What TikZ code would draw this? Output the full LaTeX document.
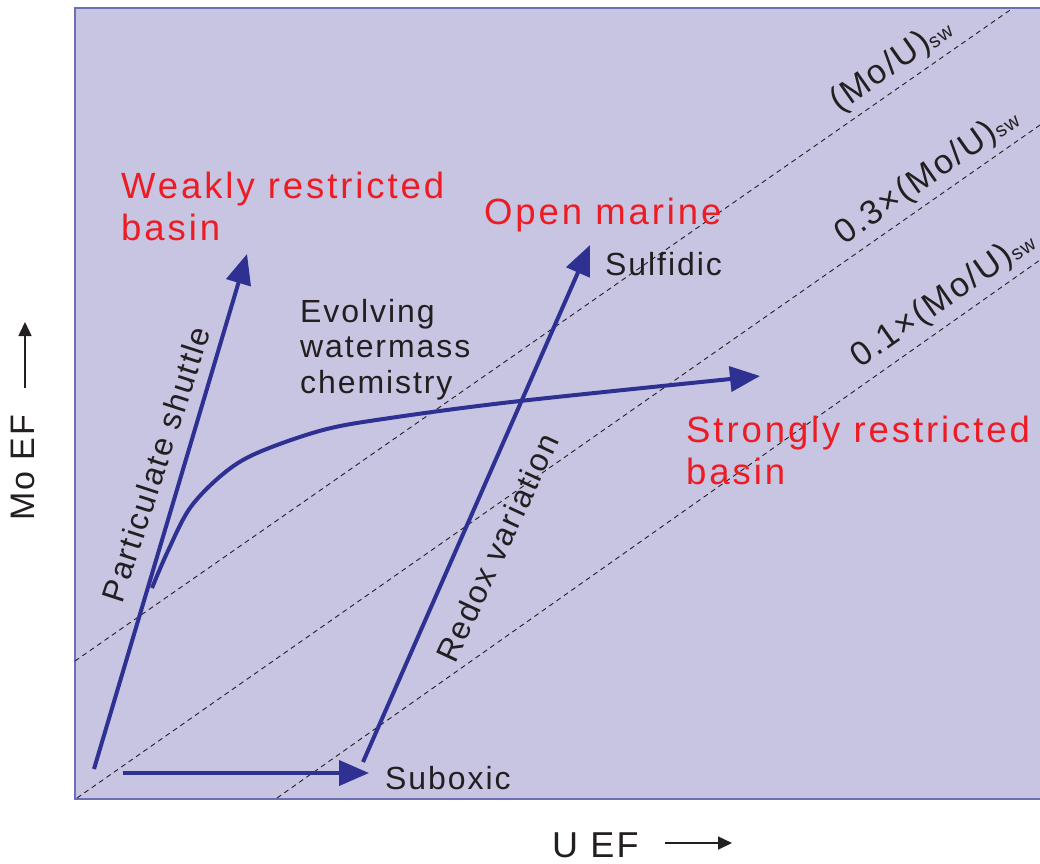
\documentclass[tikz,border=0pt]{standalone}
\usepackage{fontspec}
\setmainfont{Liberation Sans}
\newfontfamily\redfont[LetterSpace=8]{Liberation Sans}
\newfontfamily\txtfont[LetterSpace=6]{Liberation Sans}
\usetikzlibrary{arrows.meta}
\definecolor{panelfill}{RGB}{199,197,226}
\definecolor{panelline}{RGB}{110,110,182}
\definecolor{flowblue}{RGB}{46,49,146}
\definecolor{labelred}{RGB}{237,28,36}
\definecolor{inkblack}{RGB}{35,31,32}
% small lowered "sw" index used in the ratio labels
\newcommand{\swindex}{\raisebox{-2pt}{\fontsize{20}{20}\selectfont sw}}

\begin{document}
\begin{tikzpicture}[x=1pt,y=-1pt,
  flow/.style={draw=flowblue,line width=4pt,-{Triangle[length=30pt,width=25pt]}},
  ratio/.style={draw=inkblack,line width=0.9pt,dash pattern=on 5pt off 4pt},
  basinlabel/.style={text=labelred,inner sep=0pt,anchor=base west,font=\redfont\fontsize{36.5}{42.5}\selectfont},
  note/.style={text=inkblack,inner sep=0pt,font=\txtfont\fontsize{32}{35.5}\selectfont},
  ratiolabel/.style={text=inkblack,inner sep=0pt,anchor=base west,rotate=35,font=\txtfont\fontsize{34}{34}\selectfont},
  axislabel/.style={text=inkblack,inner sep=0pt,anchor=base west},
  axisarrow/.style={draw=inkblack,line width=1.6pt,-{Triangle[length=14pt,width=13pt]}}
]
\useasboundingbox (0,0) rectangle (1040,863);

% plotting panel
\begin{scope}
  \clip (0,0) rectangle (1040,863);
  \draw[fill=panelfill,draw=panelline,line width=1.5pt] (75,8) rectangle (1070,799);
\end{scope}

% seawater Mo/U reference lines
\coordinate (r1a) at (75,661);  \coordinate (r1b) at (1013,8);
\coordinate (r2a) at (77,798);  \coordinate (r2b) at (1040,125);
\coordinate (r3a) at (277,798); \coordinate (r3b) at (1040,260);
\draw[ratio] (r1a) -- (r1b);
\draw[ratio] (r2a) -- (r2b);
\draw[ratio] (r3a) -- (r3b);
\node[ratiolabel] (l1) at (839,113) {(Mo/U)\swindex};
\node[ratiolabel] (l3) at (844,246) {0.3×(Mo/U)\swindex};
\node[ratiolabel] (l10) at (860,369) {0.1×(Mo/U)\swindex};

% trend arrows
\coordinate (ps0) at (94,769);  \coordinate (ps1) at (247,254);
\coordinate (sx0) at (123,773); \coordinate (sx1) at (369,773);
\coordinate (rd0) at (363,762); \coordinate (rd1) at (590,245);
\draw[flow] (ps0) -- (ps1);
\draw[flow] (sx0) -- (sx1);
\draw[flow] (rd0) -- (rd1);
\draw[flow] plot[smooth,tension=0.55] coordinates
  {(152,588) (167,553) (190,508) (223,474) (257,453) (323,430) (390,418) (520,401) (760,376)};

% text labels
\node[basinlabel] (weak) at (121,198) {\vtop{\hbox{Weakly restricted}\hbox{basin}}};
\node[basinlabel] (open) at (484,224) {Open marine};
\node[basinlabel] (strong) at (686,442) {\vtop{\hbox{Strongly restricted}\hbox{basin}}};
\node[note,anchor=base west] (evo) at (300,322) {\vtop{\hbox{Evolving}\hbox{watermass}\hbox{chemistry}}};
\node[note,anchor=base west] (sulf) at (605,275) {Sulfidic};
\node[note,anchor=base west] (subox) at (385,789) {Suboxic};
\node[note,rotate=72] (shuttle) at (156,464) {Particulate shuttle};
\node[note,rotate=65] (redox) at (497,548) {Redox variation};

% axis titles
\node[axislabel,rotate=90,font=\txtfont\fontsize{34}{34}\selectfont] (moef) at (34,521) {Mo EF};
\coordinate (ya0) at (25,388); \coordinate (ya1) at (25,322);
\draw[axisarrow] (ya0) -- (ya1);
\node[axislabel,font=\txtfont\fontsize{36}{36}\selectfont] (uef) at (552,857) {U EF};
\coordinate (xa0) at (665,843); \coordinate (xa1) at (732,843);
\draw[axisarrow] (xa0) -- (xa1);
\end{tikzpicture}
\end{document}
